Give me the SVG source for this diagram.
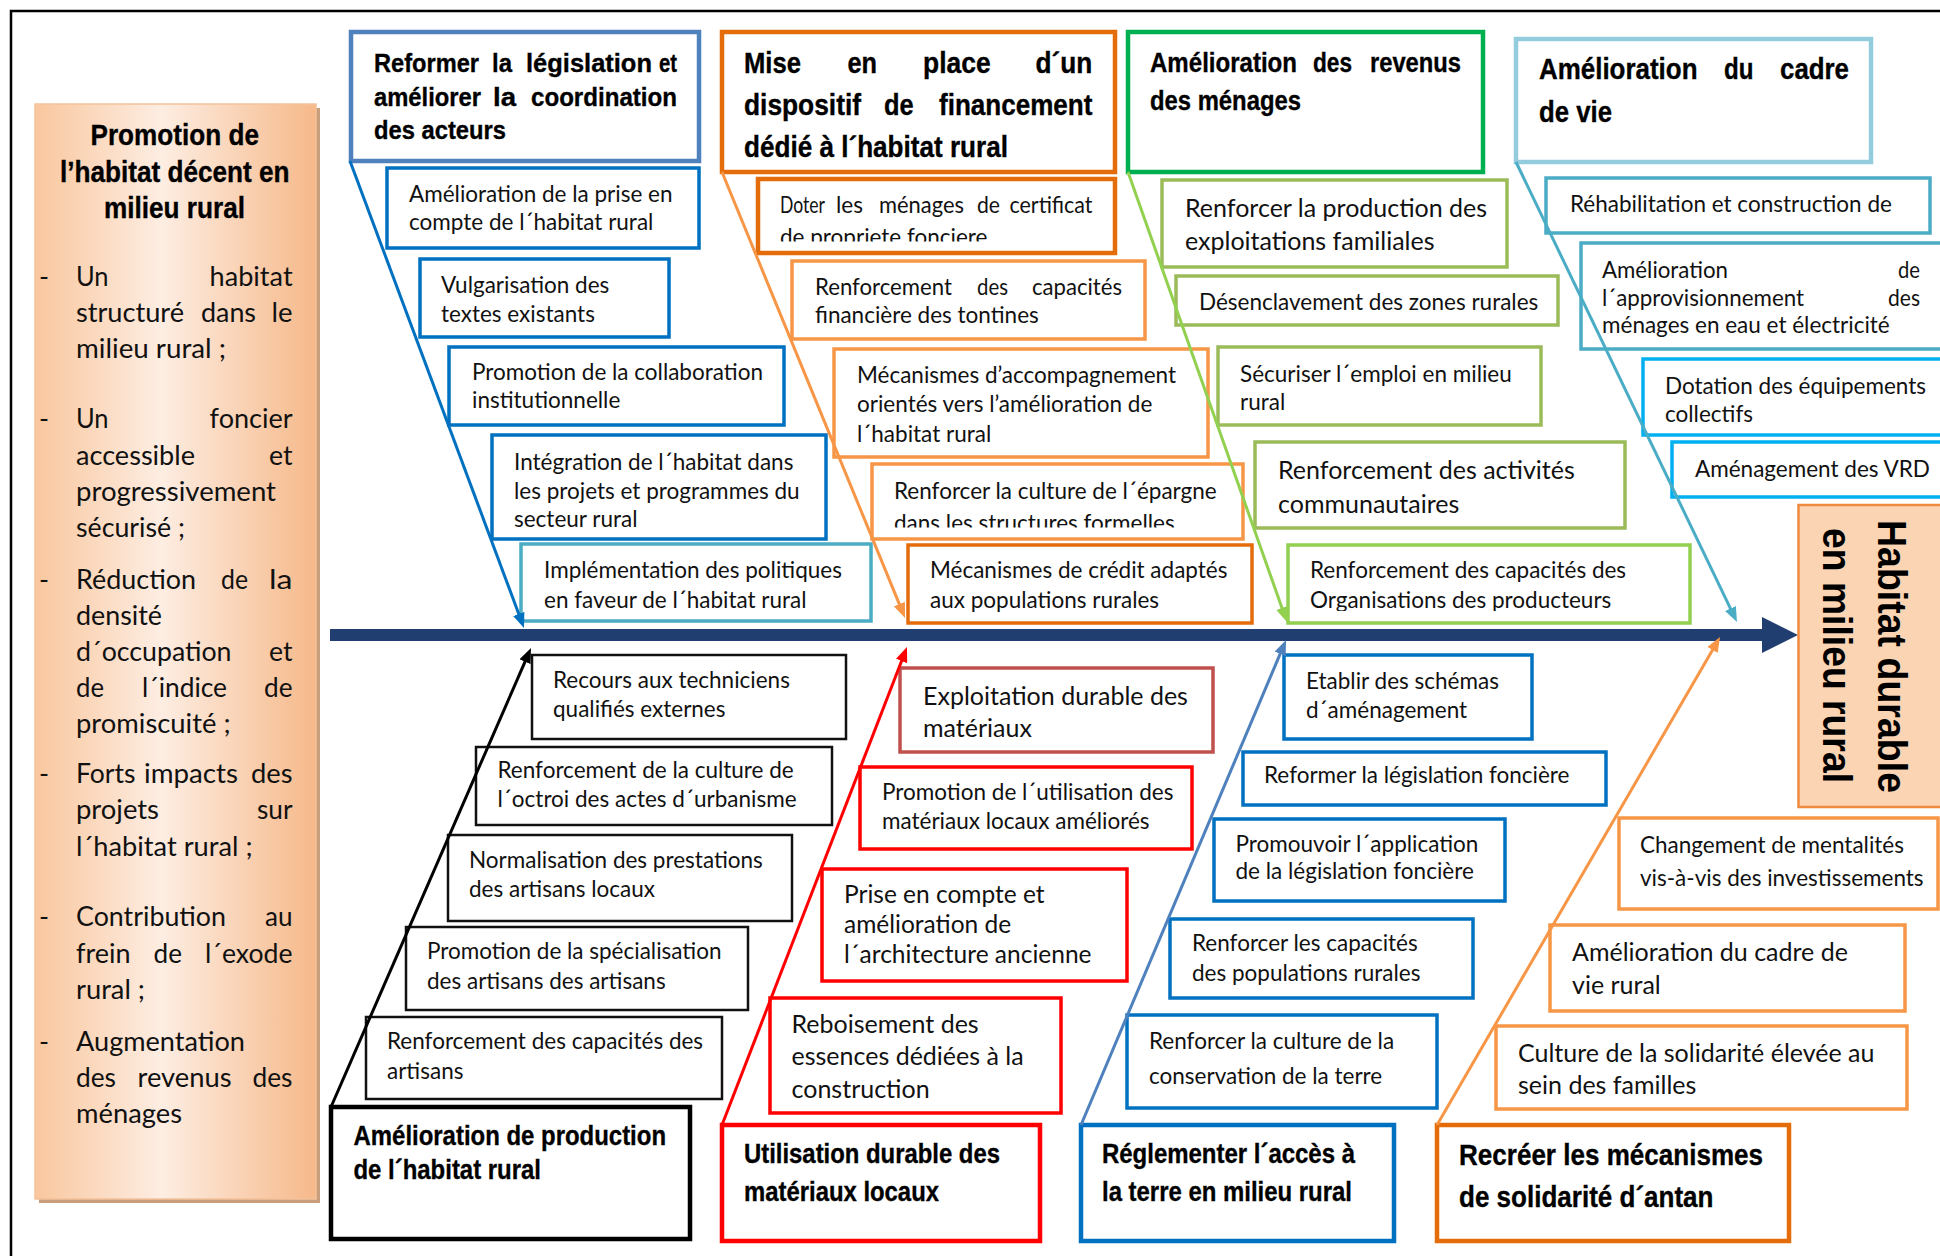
<svg xmlns="http://www.w3.org/2000/svg" width="1940" height="1256" viewBox="0 0 1940 1256">
<style>
.hd{font-family:'Liberation Sans Narrow','Liberation Sans',Arial,sans-serif;font-weight:700;fill:#000;stroke:#000;stroke-width:0.35}
.tx{font-family:Lato,'Open Sans','Liberation Sans',sans-serif;fill:#111;font-size:22.5px}
.lg{font-size:25px}
.md{font-size:24.5px}
.lp{font-family:Lato,'Open Sans','Liberation Sans',sans-serif;fill:#111;font-size:27px}
.bx{fill:#fff;stroke-width:3.5}
.hb{fill:#fff;stroke-width:4.5}
.kb{fill:#fff;stroke:#111;stroke-width:2.5}
.cn{fill:none;stroke-width:3}
</style>
<defs>
<linearGradient id="gp" x1="0" y1="0" x2="1" y2="0">
<stop offset="0" stop-color="#f9c79e"/><stop offset="0.45" stop-color="#fdede2"/><stop offset="1" stop-color="#f6b98a"/>
</linearGradient>
<marker id="mBlue" viewBox="0 0 15 12" refX="7" refY="6" markerWidth="15" markerHeight="12" markerUnits="userSpaceOnUse" orient="auto"><path d="M0,0 L15,6 L0,12 z" fill="#0070c0"/></marker>
<marker id="mOr" viewBox="0 0 15 12" refX="7" refY="6" markerWidth="15" markerHeight="12" markerUnits="userSpaceOnUse" orient="auto"><path d="M0,0 L15,6 L0,12 z" fill="#f79646"/></marker>
<marker id="mGr" viewBox="0 0 15 12" refX="7" refY="6" markerWidth="15" markerHeight="12" markerUnits="userSpaceOnUse" orient="auto"><path d="M0,0 L15,6 L0,12 z" fill="#92d050"/></marker>
<marker id="mLb" viewBox="0 0 15 12" refX="7" refY="6" markerWidth="15" markerHeight="12" markerUnits="userSpaceOnUse" orient="auto"><path d="M0,0 L15,6 L0,12 z" fill="#4bacc6"/></marker>
<marker id="mBk" viewBox="0 0 15 12" refX="7" refY="6" markerWidth="15" markerHeight="12" markerUnits="userSpaceOnUse" orient="auto"><path d="M0,0 L15,6 L0,12 z" fill="#000"/></marker>
<marker id="mRd" viewBox="0 0 15 12" refX="7" refY="6" markerWidth="15" markerHeight="12" markerUnits="userSpaceOnUse" orient="auto"><path d="M0,0 L15,6 L0,12 z" fill="#ff0000"/></marker>
<marker id="mSt" viewBox="0 0 15 12" refX="7" refY="6" markerWidth="15" markerHeight="12" markerUnits="userSpaceOnUse" orient="auto"><path d="M0,0 L15,6 L0,12 z" fill="#4f81bd"/></marker>
<clipPath id="c1"><rect x="760" y="181" width="352" height="60.5"/></clipPath>
<clipPath id="c2"><rect x="874" y="466" width="366" height="61.5"/></clipPath>
<clipPath id="c3"><rect x="1290" y="547" width="398" height="64"/></clipPath>
<clipPath id="c4"><rect x="1583" y="245" width="355" height="92"/></clipPath>
</defs>

<rect width="1940" height="1256" fill="#fff"/>
<path d="M11,1256 V11 H1940" fill="none" stroke="#000" stroke-width="2.5"/>

<!-- Left panel -->
<g id="panel-promotion">
<rect x="39" y="108" width="281" height="1095" fill="#c79f7c"/>
<rect x="35" y="104" width="281" height="1095" fill="url(#gp)" stroke="#f5c29a" stroke-width="1.5"/>
<g class="hd" font-size="30">
<text x="90.5" y="145" textLength="168.5" lengthAdjust="spacingAndGlyphs">Promotion de</text>
<text x="60" y="182" textLength="229.6" lengthAdjust="spacingAndGlyphs">l’habitat décent en</text>
<text x="104" y="218" textLength="141" lengthAdjust="spacingAndGlyphs">milieu rural</text>
</g>
<g class="lp">
<text x="39" y="286">-</text><text x="39" y="428">-</text><text x="39" y="589">-</text><text x="39" y="783">-</text><text x="39" y="926">-</text><text x="39" y="1051">-</text>
<text x="76" y="286" textLength="32.6" lengthAdjust="spacingAndGlyphs">Un</text><text x="209.6" y="286" textLength="83" lengthAdjust="spacingAndGlyphs">habitat</text>
<text x="76" y="322" textLength="108" lengthAdjust="spacingAndGlyphs">structuré</text><text x="201" y="322" textLength="55" lengthAdjust="spacingAndGlyphs">dans</text><text x="271.5" y="322" textLength="21" lengthAdjust="spacingAndGlyphs">le</text>
<text x="76" y="358" textLength="150" lengthAdjust="spacingAndGlyphs">milieu rural ;</text>
<text x="76" y="428" textLength="32.6" lengthAdjust="spacingAndGlyphs">Un</text><text x="209.6" y="428" textLength="83" lengthAdjust="spacingAndGlyphs">foncier</text>
<text x="76" y="465" textLength="119" lengthAdjust="spacingAndGlyphs">accessible</text><text x="269" y="465" textLength="23.5" lengthAdjust="spacingAndGlyphs">et</text>
<text x="76" y="501" textLength="200" lengthAdjust="spacingAndGlyphs">progressivement</text>
<text x="76" y="537" textLength="109" lengthAdjust="spacingAndGlyphs">sécurisé ;</text>
<text x="76" y="589" textLength="120" lengthAdjust="spacingAndGlyphs">Réduction</text><text x="221" y="589" textLength="27" lengthAdjust="spacingAndGlyphs">de</text><text x="269" y="589" textLength="23.5" lengthAdjust="spacingAndGlyphs">la</text>
<text x="76" y="625" textLength="86" lengthAdjust="spacingAndGlyphs">densité</text>
<text x="76" y="661" textLength="155.5" lengthAdjust="spacingAndGlyphs">d´occupation</text><text x="269" y="661" textLength="23.5" lengthAdjust="spacingAndGlyphs">et</text>
<text x="76" y="697" textLength="28" lengthAdjust="spacingAndGlyphs">de</text><text x="142" y="697" textLength="85" lengthAdjust="spacingAndGlyphs">l´indice</text><text x="264" y="697" textLength="28.5" lengthAdjust="spacingAndGlyphs">de</text>
<text x="76" y="733" textLength="154.6" lengthAdjust="spacingAndGlyphs">promiscuité ;</text>
<text x="76" y="783" textLength="59.5" lengthAdjust="spacingAndGlyphs">Forts</text><text x="144" y="783" textLength="94" lengthAdjust="spacingAndGlyphs">impacts</text><text x="251" y="783" textLength="41.5" lengthAdjust="spacingAndGlyphs">des</text>
<text x="76" y="819" textLength="83" lengthAdjust="spacingAndGlyphs">projets</text><text x="257" y="819" textLength="35.5" lengthAdjust="spacingAndGlyphs">sur</text>
<text x="76" y="856" textLength="176.5" lengthAdjust="spacingAndGlyphs">l´habitat rural ;</text>
<text x="76" y="926" textLength="150" lengthAdjust="spacingAndGlyphs">Contribution</text><text x="265" y="926" textLength="27.5" lengthAdjust="spacingAndGlyphs">au</text>
<text x="76" y="963" textLength="54.5" lengthAdjust="spacingAndGlyphs">frein</text><text x="153.6" y="963" textLength="28.4" lengthAdjust="spacingAndGlyphs">de</text><text x="205" y="963" textLength="87.5" lengthAdjust="spacingAndGlyphs">l´exode</text>
<text x="76" y="999" textLength="69" lengthAdjust="spacingAndGlyphs">rural ;</text>
<text x="76" y="1051" textLength="169" lengthAdjust="spacingAndGlyphs">Augmentation</text>
<text x="76" y="1087" textLength="40" lengthAdjust="spacingAndGlyphs">des</text><text x="137.6" y="1087" textLength="94" lengthAdjust="spacingAndGlyphs">revenus</text><text x="252.5" y="1087" textLength="40" lengthAdjust="spacingAndGlyphs">des</text>
<text x="76" y="1123" textLength="106" lengthAdjust="spacingAndGlyphs">ménages</text>
</g>
</g>

<!-- Spine and effect -->
<g id="spine">
<rect x="330" y="629" width="1436" height="12" fill="#203e6f"/>
<polygon points="1762,617 1798,635 1762,653" fill="#203e6f"/>
</g>
<g id="effect-habitat-durable">
<rect x="1798.5" y="505" width="150" height="302" fill="#fbd4b4" stroke="#f08a3e" stroke-width="2.5"/>
<g font-family="'Liberation Sans',Arial,sans-serif" font-weight="700" font-size="40" fill="#000">
<text transform="translate(1878,520) rotate(90)" textLength="273" lengthAdjust="spacingAndGlyphs">Habitat durable</text>
<text transform="translate(1823,528) rotate(90)" textLength="255" lengthAdjust="spacingAndGlyphs">en milieu rural</text>
</g>
</g>

<!-- Top branch 1 -->
<g id="cause-legislation">
<rect class="hb" x="351" y="32" width="348" height="129" stroke="#4f81bd" stroke-width="3.5"/>
<g class="hd" font-size="26">
<text x="374" y="72" textLength="105" lengthAdjust="spacingAndGlyphs">Reformer</text><text x="492" y="72" textLength="20" lengthAdjust="spacingAndGlyphs">la</text><text x="526" y="72" textLength="126" lengthAdjust="spacingAndGlyphs">législation</text><text x="659" y="72" textLength="18" lengthAdjust="spacingAndGlyphs">et</text>
<text x="374" y="106" textLength="107" lengthAdjust="spacingAndGlyphs">améliorer</text><text x="493" y="106" textLength="23" lengthAdjust="spacingAndGlyphs">la</text><text x="531" y="106" textLength="146" lengthAdjust="spacingAndGlyphs">coordination</text>
<text x="374" y="139" textLength="132" lengthAdjust="spacingAndGlyphs">des acteurs</text>
</g>
</g>
<g id="sub-1-1"><rect class="bx" x="387" y="168" width="312" height="80" stroke="#0070c0"/><text class="tx" x="409" y="202">Amélioration de la prise en</text><text class="tx" x="409" y="230">compte de l´habitat rural</text></g>
<g id="sub-1-2"><rect class="bx" x="420" y="259" width="249" height="78" stroke="#0070c0"/><text class="tx" x="441" y="293">Vulgarisation des</text><text class="tx" x="441" y="322">textes existants</text></g>
<g id="sub-1-3"><rect class="bx" x="449" y="347" width="335" height="78" stroke="#0070c0"/><text class="tx" x="472" y="380">Promotion de la collaboration</text><text class="tx" x="472" y="408">institutionnelle</text></g>
<g id="sub-1-4"><rect class="bx" x="492" y="435" width="334" height="104" stroke="#0070c0"/><text class="tx" x="514" y="470">Intégration de l´habitat dans</text><text class="tx" x="514" y="499">les projets et programmes du</text><text class="tx" x="514" y="527">secteur rural</text></g>
<g id="sub-1-5"><rect class="bx" x="521" y="544" width="350" height="77" stroke="#4bacc6"/><text class="tx" x="544" y="578">Implémentation des politiques</text><text class="tx" x="544" y="608">en faveur de l´habitat rural</text></g>

<!-- Top branch 2 -->
<g id="cause-financement">
<rect class="hb" x="722" y="32" width="393" height="140" stroke="#e46c0a"/>
<g class="hd" font-size="29">
<text x="744" y="73" textLength="57" lengthAdjust="spacingAndGlyphs">Mise</text><text x="847.5" y="73" textLength="29.5" lengthAdjust="spacingAndGlyphs">en</text><text x="923" y="73" textLength="67.6" lengthAdjust="spacingAndGlyphs">place</text><text x="1035.6" y="73" textLength="56.8" lengthAdjust="spacingAndGlyphs">d´un</text>
<text x="744" y="115" textLength="117" lengthAdjust="spacingAndGlyphs">dispositif</text><text x="884" y="115" textLength="29.6" lengthAdjust="spacingAndGlyphs">de</text><text x="939" y="115" textLength="153.4" lengthAdjust="spacingAndGlyphs">financement</text>
<text x="744" y="157" textLength="264" lengthAdjust="spacingAndGlyphs">dédié à l´habitat rural</text>
</g>
</g>
<g id="sub-2-1"><rect class="hb" x="758" y="179" width="357" height="74" stroke="#e46c0a"/>
<g class="tx"><text x="780" y="213" textLength="45" lengthAdjust="spacingAndGlyphs">Doter</text><text x="836" y="213" textLength="27" lengthAdjust="spacingAndGlyphs">les</text><text x="879" y="213" textLength="85" lengthAdjust="spacingAndGlyphs">ménages</text><text x="977" y="213" textLength="23" lengthAdjust="spacingAndGlyphs">de</text><text x="1009.5" y="213" textLength="83" lengthAdjust="spacingAndGlyphs">certificat</text></g>
<text class="tx" x="780" y="245" clip-path="url(#c1)">de propriete fonciere</text></g>
<g id="sub-2-2"><rect class="bx" x="792" y="261" width="353" height="78" stroke="#f79646"/>
<g class="tx"><text x="815" y="295" textLength="137" lengthAdjust="spacingAndGlyphs">Renforcement</text><text x="977" y="295" textLength="31" lengthAdjust="spacingAndGlyphs">des</text><text x="1032" y="295" textLength="90" lengthAdjust="spacingAndGlyphs">capacités</text></g>
<text class="tx" x="815" y="323">financière des tontines</text></g>
<g id="sub-2-3"><rect class="bx" x="834" y="349" width="374" height="108" stroke="#f79646"/><text class="tx" x="857" y="383">Mécanismes d’accompagnement</text><text class="tx" x="857" y="412">orientés vers l’amélioration de</text><text class="tx" x="857" y="442">l´habitat rural</text></g>
<g id="sub-2-4"><rect class="bx" x="872" y="464" width="371" height="75" stroke="#f79646"/><text class="tx" x="894" y="499">Renforcer la culture de l´épargne</text><text class="tx" x="894" y="531" clip-path="url(#c2)">dans les structures formelles</text></g>
<g id="sub-2-5"><rect class="bx" x="908" y="545" width="344" height="78" stroke="#e46c0a"/><text class="tx" x="930" y="578">Mécanismes de crédit adaptés</text><text class="tx" x="930" y="608">aux populations rurales</text></g>

<!-- Top branch 3 -->
<g id="cause-revenus">
<rect class="hb" x="1128" y="32" width="355" height="140" stroke="#00b050"/>
<g class="hd" font-size="27">
<text x="1150" y="72" textLength="147" lengthAdjust="spacingAndGlyphs">Amélioration</text><text x="1313" y="72" textLength="39" lengthAdjust="spacingAndGlyphs">des</text><text x="1370" y="72" textLength="91" lengthAdjust="spacingAndGlyphs">revenus</text>
<text x="1150" y="110" textLength="151" lengthAdjust="spacingAndGlyphs">des ménages</text>
</g>
</g>
<g id="sub-3-1"><rect class="bx" x="1162" y="180" width="345" height="87" stroke="#9bbb59"/><text class="tx lg" x="1185" y="217">Renforcer la production des</text><text class="tx lg" x="1185" y="250">exploitations familiales</text></g>
<g id="sub-3-2"><rect class="bx" x="1176" y="276" width="382" height="49" stroke="#9bbb59"/><text class="tx" x="1199" y="310">Désenclavement des zones rurales</text></g>
<g id="sub-3-3"><rect class="bx" x="1218" y="347" width="323" height="78" stroke="#9bbb59"/><text class="tx" x="1240" y="382">Sécuriser l´emploi en milieu</text><text class="tx" x="1240" y="410">rural</text></g>
<g id="sub-3-4"><rect class="bx" x="1255" y="442" width="370" height="86" stroke="#9bbb59"/><text class="tx lg" x="1278" y="479">Renforcement des activités</text><text class="tx lg" x="1278" y="513">communautaires</text></g>
<g id="sub-3-5"><rect class="bx" x="1288" y="545" width="402" height="78" stroke="#92d050"/><text class="tx" x="1310" y="578">Renforcement des capacités des</text><text class="tx" x="1310" y="608" clip-path="url(#c3)">Organisations des producteurs</text></g>

<!-- Top branch 4 -->
<g id="cause-cadre-vie">
<rect class="hb" x="1516" y="39" width="355" height="123" stroke="#93cddd"/>
<g class="hd" font-size="29">
<text x="1539" y="79" textLength="158.5" lengthAdjust="spacingAndGlyphs">Amélioration</text><text x="1724" y="79" textLength="29.5" lengthAdjust="spacingAndGlyphs">du</text><text x="1780" y="79" textLength="69" lengthAdjust="spacingAndGlyphs">cadre</text>
<text x="1539" y="122" textLength="73" lengthAdjust="spacingAndGlyphs">de vie</text>
</g>
</g>
<g id="sub-4-1"><rect class="bx" x="1546" y="178" width="384" height="55" stroke="#4bacc6"/><text class="tx" x="1570" y="212">Réhabilitation et construction de</text></g>
<g id="sub-4-2"><rect class="bx" x="1581" y="243" width="370" height="106" stroke="#4bacc6"/>
<g class="tx"><text x="1602" y="278" textLength="126" lengthAdjust="spacingAndGlyphs">Amélioration</text><text x="1898" y="278" textLength="22" lengthAdjust="spacingAndGlyphs">de</text>
<text x="1602" y="306" textLength="202" lengthAdjust="spacingAndGlyphs">l´approvisionnement</text><text x="1888" y="306" textLength="32" lengthAdjust="spacingAndGlyphs">des</text></g>
<text class="tx" x="1602" y="333" clip-path="url(#c4)">ménages en eau et électricité</text></g>
<g id="sub-4-3"><rect class="bx" x="1643" y="359" width="310" height="76" stroke="#00b0f0"/><text class="tx" x="1665" y="394">Dotation des équipements</text><text class="tx" x="1665" y="422">collectifs</text></g>
<g id="sub-4-4"><rect class="bx" x="1672" y="442" width="280" height="55" stroke="#00b0f0"/><text class="tx" x="1695" y="477">Aménagement des VRD</text></g>

<!-- Bottom branch 1 -->
<g id="cause-production">
<rect class="hb" x="331" y="1107" width="359" height="132" stroke="#000" stroke-width="4"/>
<g class="hd" font-size="28">
<text x="353.5" y="1145" textLength="312.5" lengthAdjust="spacingAndGlyphs">Amélioration de production</text>
<text x="353.5" y="1179" textLength="187.5" lengthAdjust="spacingAndGlyphs">de l´habitat rural</text>
</g>
</g>
<g id="sub-5-1"><rect class="kb" x="532" y="655" width="314" height="84"/><text class="tx" x="553" y="688">Recours aux techniciens</text><text class="tx" x="553" y="717">qualifiés externes</text></g>
<g id="sub-5-2"><rect class="kb" x="476" y="747" width="356" height="78"/><text class="tx" x="497.5" y="778">Renforcement de la culture de</text><text class="tx" x="497.5" y="807">l´octroi des actes d´urbanisme</text></g>
<g id="sub-5-3"><rect class="kb" x="448" y="835" width="344" height="86"/><text class="tx" x="469" y="868">Normalisation des prestations</text><text class="tx" x="469" y="897">des artisans locaux</text></g>
<g id="sub-5-4"><rect class="kb" x="406" y="927" width="342" height="83"/><text class="tx" x="427" y="959">Promotion de la spécialisation</text><text class="tx" x="427" y="989">des artisans des artisans</text></g>
<g id="sub-5-5"><rect class="kb" x="366" y="1017" width="356" height="82"/><text class="tx" x="387" y="1049">Renforcement des capacités des</text><text class="tx" x="387" y="1079">artisans</text></g>

<!-- Bottom branch 2 -->
<g id="cause-materiaux">
<rect class="hb" x="722" y="1125" width="318" height="116" stroke="#ff0000" stroke-width="4"/>
<g class="hd" font-size="27">
<text x="744" y="1163" textLength="256" lengthAdjust="spacingAndGlyphs">Utilisation durable des</text>
<text x="744" y="1201" textLength="195" lengthAdjust="spacingAndGlyphs">matériaux locaux</text>
</g>
</g>
<g id="sub-6-1"><rect class="bx" x="900" y="668" width="313" height="84" stroke="#c0504d" stroke-width="4"/><text class="tx lg" x="923" y="705">Exploitation durable des</text><text class="tx lg" x="923" y="737">matériaux</text></g>
<g id="sub-6-2"><rect class="bx" x="860" y="767" width="332" height="82" stroke="#ff0000"/><text class="tx" x="882" y="800">Promotion de l´utilisation des</text><text class="tx" x="882" y="829">matériaux locaux améliorés</text></g>
<g id="sub-6-3"><rect class="bx" x="822" y="869" width="305" height="112" stroke="#ff0000"/><text class="tx md" x="844" y="903">Prise en compte et</text><text class="tx md" x="844" y="933">amélioration de</text><text class="tx md" x="844" y="963">l´architecture ancienne</text></g>
<g id="sub-6-4"><rect class="bx" x="770" y="998" width="291" height="115" stroke="#ff0000"/><text class="tx lg" x="791.5" y="1033">Reboisement des</text><text class="tx lg" x="791.5" y="1065">essences dédiées à la</text><text class="tx lg" x="791.5" y="1098">construction</text></g>

<!-- Bottom branch 3 -->
<g id="cause-foncier">
<rect class="hb" x="1081" y="1125" width="313" height="116" stroke="#0070c0" stroke-width="4"/>
<g class="hd" font-size="27">
<text x="1102" y="1163" textLength="253" lengthAdjust="spacingAndGlyphs">Réglementer l´accès à</text>
<text x="1102" y="1201" textLength="250" lengthAdjust="spacingAndGlyphs">la terre en milieu rural</text>
</g>
</g>
<g id="sub-7-1"><rect class="bx" x="1284" y="655" width="248" height="84" stroke="#0070c0"/><text class="tx" x="1306" y="689">Etablir des schémas</text><text class="tx" x="1306" y="718">d´aménagement</text></g>
<g id="sub-7-2"><rect class="bx" x="1243" y="752" width="363" height="53" stroke="#0070c0"/><text class="tx" x="1264" y="783">Reformer la législation foncière</text></g>
<g id="sub-7-3"><rect class="bx" x="1214" y="819" width="291" height="82" stroke="#0070c0"/><text class="tx" x="1235.5" y="852">Promouvoir l´application</text><text class="tx" x="1235.5" y="879">de la législation foncière</text></g>
<g id="sub-7-4"><rect class="bx" x="1170" y="919" width="303" height="79" stroke="#0070c0"/><text class="tx" x="1192" y="951">Renforcer les capacités</text><text class="tx" x="1192" y="981">des populations rurales</text></g>
<g id="sub-7-5"><rect class="bx" x="1127" y="1015" width="310" height="93" stroke="#0070c0"/><text class="tx" x="1149" y="1049">Renforcer la culture de la</text><text class="tx" x="1149" y="1084">conservation de la terre</text></g>

<!-- Bottom branch 4 -->
<g id="cause-solidarite">
<rect class="hb" x="1437" y="1125" width="352" height="116" stroke="#e46c0a" stroke-width="4"/>
<g class="hd" font-size="30">
<text x="1459" y="1165" textLength="304" lengthAdjust="spacingAndGlyphs">Recréer les mécanismes</text>
<text x="1459" y="1207" textLength="254.5" lengthAdjust="spacingAndGlyphs">de solidarité d´antan</text>
</g>
</g>
<g id="sub-8-1"><rect class="bx" x="1619" y="818" width="319" height="91" stroke="#f79646"/><text class="tx" x="1640" y="853">Changement de mentalités</text><text class="tx" x="1640" y="886">vis-à-vis des investissements</text></g>
<g id="sub-8-2"><rect class="bx" x="1550" y="925" width="355" height="86" stroke="#f79646"/><text class="tx lg" x="1572" y="961">Amélioration du cadre de</text><text class="tx lg" x="1572" y="994">vie rural</text></g>
<g id="sub-8-3"><rect class="bx" x="1496" y="1026" width="411" height="83" stroke="#f79646"/><text class="tx lg" x="1518" y="1062">Culture de la solidarité élevée au</text><text class="tx lg" x="1518" y="1094">sein des familles</text></g>

<!-- Connectors -->
<g id="connectors">
<line class="cn" x1="350" y1="161" x2="521.2" y2="620.5" stroke="#0070c0" marker-end="url(#mBlue)"/>
<line class="cn" x1="722" y1="172" x2="902" y2="610.6" stroke="#f79646" marker-end="url(#mOr)"/>
<line class="cn" x1="1128" y1="172" x2="1284.3" y2="614.5" stroke="#92d050" marker-end="url(#mGr)"/>
<line class="cn" x1="1516" y1="162" x2="1733.5" y2="614.8" stroke="#4bacc6" marker-end="url(#mLb)"/>
<line class="cn" x1="331" y1="1107" x2="527.8" y2="655.3" stroke="#000" marker-end="url(#mBk)"/>
<line class="cn" x1="722" y1="1125" x2="904.1" y2="654.5" stroke="#ff0000" marker-end="url(#mRd)"/>
<line class="cn" x1="1081" y1="1125" x2="1282.9" y2="647.4" stroke="#4f81bd" marker-end="url(#mSt)"/>
<line class="cn" x1="1437" y1="1125" x2="1716" y2="643.9" stroke="#f79646" marker-end="url(#mOr)"/>
</g>
</svg>
